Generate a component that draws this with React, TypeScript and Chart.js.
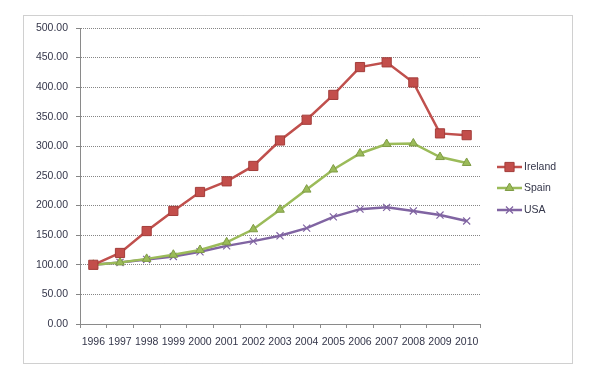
import React, { useEffect, useRef } from "react";
import { Chart, registerables } from "chart.js";

Chart.register(...registerables);

const years = ["1996", "1997", "1998", "1999", "2000", "2001", "2002", "2003", "2004", "2005", "2006", "2007", "2008", "2009", "2010"];
const ireland = [100, 120, 157, 191, 223, 241, 267, 310, 345, 387, 434, 442, 408, 322, 319];
const spain = [100, 104, 110, 117, 125, 138, 160, 193, 227, 261, 288, 304, 305, 282, 272];
const usa = [100, 104, 109, 114, 122, 132, 140, 149, 162, 181, 194, 197, 191, 184, 174];
const seriesNames = ["Ireland", "Spain", "USA"];

const FONT = "'Liberation Sans', Arial, sans-serif";
const TEXT = "#34364a";

function drawMarker(ctx: CanvasRenderingContext2D, style: string, x: number, y: number, r: number, fill: string, stroke: string) {
  ctx.save();
  ctx.fillStyle = fill;
  ctx.strokeStyle = stroke;
  ctx.lineWidth = 1;
  ctx.setLineDash([]);
  ctx.beginPath();
  if (style === "rect") {
    const s = Math.SQRT1_2 * r;
    ctx.rect(x - s, y - s, 2 * s, 2 * s);
    ctx.fill();
    ctx.stroke();
  } else if (style === "triangle") {
    ctx.moveTo(x, y - r);
    ctx.lineTo(x + r * 0.866, y + r * 0.5);
    ctx.lineTo(x - r * 0.866, y + r * 0.5);
    ctx.closePath();
    ctx.fill();
    ctx.stroke();
  } else {
    const s = Math.SQRT1_2 * r;
    ctx.lineWidth = 1.2;
    ctx.moveTo(x - s, y - s);
    ctx.lineTo(x + s, y + s);
    ctx.moveTo(x - s, y + s);
    ctx.lineTo(x + s, y - s);
    ctx.stroke();
  }
  ctx.restore();
}

const framePlugin = {
  id: "frameAndLegend",
  beforeDraw(chart: any) {
    const ctx = chart.ctx as CanvasRenderingContext2D;
    ctx.save();
    ctx.fillStyle = "#ffffff";
    ctx.fillRect(0, 0, chart.width, chart.height);
    ctx.strokeStyle = "#a0a0a0";
    ctx.lineWidth = 1;
    ctx.setLineDash([1, 1]);
    ctx.strokeRect(23.5, 15.5, 549, 348);
    ctx.restore();
  },
  afterDraw(chart: any) {
    const ctx = chart.ctx as CanvasRenderingContext2D;
    const ys = [167, 188, 210];
    chart.data.datasets.forEach((ds: any, i: number) => {
      const y = ys[i];
      ctx.save();
      ctx.strokeStyle = ds.borderColor;
      ctx.lineWidth = ds.borderWidth;
      ctx.beginPath();
      ctx.moveTo(497, y);
      ctx.lineTo(522, y);
      ctx.stroke();
      ctx.restore();
      drawMarker(ctx, ds.pointStyle, 509.5, y, ds.pointRadius, ds.pointBackgroundColor, ds.pointBorderColor);
      ctx.save();
      ctx.fillStyle = TEXT;
      ctx.font = `10.5px ${FONT}`;
      ctx.textAlign = "left";
      ctx.textBaseline = "middle";
      ctx.fillText(ds.label, 524, y + 0.5);
      ctx.restore();
    });
  },
};

export default function App() {
  const ref = useRef<HTMLCanvasElement | null>(null);
  useEffect(() => {
    if (!ref.current) return;
    const chart = new Chart(ref.current, {
      type: "line",
      data: {
        labels: years,
        datasets: [
          {
            label: seriesNames[0],
            data: ireland,
            borderColor: "#C0504D",
            borderWidth: 2.5,
            pointStyle: "rect",
            pointRadius: 6.5,
            pointBackgroundColor: "#C34E4B",
            pointBorderColor: "#A33D3A",
            pointBorderWidth: 1,
            tension: 0,
          },
          {
            label: seriesNames[1],
            data: spain,
            borderColor: "#9BBB59",
            borderWidth: 2.5,
            pointStyle: "triangle",
            pointRadius: 5,
            pointBackgroundColor: "#9BBB59",
            pointBorderColor: "#7F9C45",
            pointBorderWidth: 1,
            tension: 0,
          },
          {
            label: seriesNames[2],
            data: usa,
            borderColor: "#8064A2",
            borderWidth: 2.5,
            pointStyle: "crossRot",
            pointRadius: 5,
            pointBackgroundColor: "#8064A2",
            pointBorderColor: "#8064A2",
            pointBorderWidth: 1.2,
            tension: 0,
          },
        ],
      },
      options: {
        responsive: false,
        animation: false,
        layout: { padding: { left: 0, right: 120, top: 28, bottom: 0 } },
        plugins: {
          legend: { display: false },
          tooltip: { enabled: false },
        },
        scales: {
          x: {
            type: "category",
            offset: true,
            afterFit: (s: any) => {
              s.height = 63;
            },
            grid: {
              offset: true,
              drawOnChartArea: false,
              drawTicks: true,
              tickLength: 4,
              color: "#8a8a8a",
            },
            border: { color: "#8a8a8a", width: 1 },
            ticks: {
              color: TEXT,
              font: { family: FONT, size: 10.5 },
              padding: 8,
              maxRotation: 0,
              autoSkip: false,
            },
          },
          y: {
            min: 0,
            max: 500,
            afterFit: (s: any) => {
              s.width = 80;
            },
            grid: {
              color: "#858585",
              tickLength: 4,
              lineWidth: 1,
            },
            border: { color: "#8a8a8a", width: 1, dash: [1, 1] },
            ticks: {
              stepSize: 50,
              color: TEXT,
              font: { family: FONT, size: 10.5 },
              padding: 8,
              callback: (v: any) => Number(v).toFixed(2),
            },
          },
        },
      },
      plugins: [framePlugin],
    });
    return () => chart.destroy();
  }, []);
  return (
    <div style={{ position: "absolute", left: 0, top: 0, width: 600, height: 387 }}>
      <canvas ref={ref} width={600} height={387} />
    </div>
  );
}
